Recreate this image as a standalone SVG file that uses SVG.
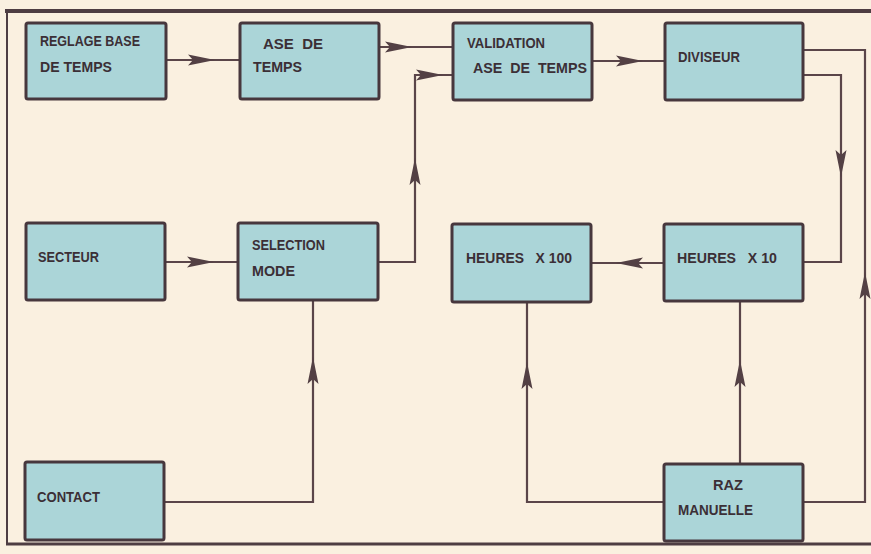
<svg xmlns="http://www.w3.org/2000/svg" xmlns:xlink="http://www.w3.org/1999/xlink" width="871" height="554" viewBox="0 0 871 554">
<style>
.bg{fill:#faf0e0}
.box{fill:#abd5d8;stroke:#47373d;stroke-width:3}
.t{font-family:"Liberation Sans",Arial,sans-serif;font-weight:bold;font-size:15px;fill:#3b2f36}
.ln{fill:none;stroke:#5a4549;stroke-width:2.2}
.ah{fill:#534044}
.frame{stroke:#4e3d42;fill:none}
</style>
<defs>
<path id="ah" class="ah" d="M0,0 L-27,-5.5 L-22,0 L-27,5.5 Z"/>
</defs>
<rect class="bg" x="0" y="0" width="871" height="554"/>
<g id="frame">
<line class="frame" x1="5" y1="11" x2="871" y2="11" stroke-width="4"/>
<line class="frame" x1="7" y1="11" x2="7" y2="544" stroke-width="2"/>
<line class="frame" x1="6" y1="544" x2="871" y2="544" stroke-width="3"/>
</g>
<g id="connectors">
<path class="ln" d="M166,60 H240"/>
<path class="ln" d="M379,47 H453"/>
<path class="ln" d="M378,262 H415 V75 H453"/>
<path class="ln" d="M592,61 H665"/>
<path class="ln" d="M803,75 H841 V262 H803"/>
<path class="ln" d="M803,50 H865 V502 H803"/>
<path class="ln" d="M664,263 H591"/>
<path class="ln" d="M165,262 H238"/>
<path class="ln" d="M164,502 H313 V300"/>
<path class="ln" d="M664,502 H527 V302"/>
<path class="ln" d="M740,464 V301"/>
<use xlink:href="#ah" transform="translate(215,60)"/>
<use xlink:href="#ah" transform="translate(412,47)"/>
<use xlink:href="#ah" transform="translate(443,75)"/>
<use xlink:href="#ah" transform="translate(415,158) rotate(-90)"/>
<use xlink:href="#ah" transform="translate(643,61)"/>
<use xlink:href="#ah" transform="translate(841,177) rotate(90)"/>
<use xlink:href="#ah" transform="translate(616,263) rotate(180)"/>
<use xlink:href="#ah" transform="translate(865,272) rotate(-90)"/>
<use xlink:href="#ah" transform="translate(527,362) rotate(-90)"/>
<use xlink:href="#ah" transform="translate(740,360) rotate(-90)"/>
<use xlink:href="#ah" transform="translate(313,357) rotate(-90)"/>
<use xlink:href="#ah" transform="translate(214,262)"/>
</g>
<g id="reglage">
<rect class="box" x="26" y="23" width="140" height="76" rx="2"/>
<text class="t" x="40" y="46" textLength="100" lengthAdjust="spacingAndGlyphs">REGLAGE BASE</text>
<text class="t" x="40" y="72" textLength="72" lengthAdjust="spacingAndGlyphs">DE TEMPS</text>
</g>
<g id="ase">
<rect class="box" x="240" y="23" width="139" height="76" rx="2"/>
<text class="t" x="263" y="49" xml:space="preserve" textLength="60" lengthAdjust="spacingAndGlyphs">ASE  DE</text>
<text class="t" x="253" y="72" textLength="49" lengthAdjust="spacingAndGlyphs">TEMPS</text>
</g>
<g id="validation">
<rect class="box" x="453" y="23" width="139" height="77" rx="2"/>
<text class="t" x="467" y="48" textLength="78" lengthAdjust="spacingAndGlyphs">VALIDATION</text>
<text class="t" x="473" y="73" xml:space="preserve" textLength="114" lengthAdjust="spacingAndGlyphs">ASE  DE  TEMPS</text>
</g>
<g id="diviseur">
<rect class="box" x="665" y="23" width="138" height="77" rx="2"/>
<text class="t" x="678" y="62" textLength="62" lengthAdjust="spacingAndGlyphs">DIVISEUR</text>
</g>
<g id="secteur">
<rect class="box" x="26" y="223" width="139" height="77" rx="2"/>
<text class="t" x="38" y="262" textLength="61" lengthAdjust="spacingAndGlyphs">SECTEUR</text>
</g>
<g id="selection">
<rect class="box" x="238" y="223" width="140" height="77" rx="2"/>
<text class="t" x="252" y="250" textLength="73" lengthAdjust="spacingAndGlyphs">SELECTION</text>
<text class="t" x="252" y="276" textLength="43" lengthAdjust="spacingAndGlyphs">MODE</text>
</g>
<g id="heures100">
<rect class="box" x="452" y="224" width="139" height="78" rx="2"/>
<text class="t" x="466" y="263" xml:space="preserve" textLength="106" lengthAdjust="spacingAndGlyphs">HEURES   X 100</text>
</g>
<g id="heures10">
<rect class="box" x="664" y="224" width="139" height="77" rx="2"/>
<text class="t" x="677" y="263" xml:space="preserve" textLength="100" lengthAdjust="spacingAndGlyphs">HEURES   X 10</text>
</g>
<g id="contact">
<rect class="box" x="25" y="462" width="139" height="78" rx="2"/>
<text class="t" x="37" y="502" textLength="63" lengthAdjust="spacingAndGlyphs">CONTACT</text>
</g>
<g id="raz">
<rect class="box" x="664" y="464" width="139" height="77" rx="2"/>
<text class="t" x="713" y="490" textLength="30" lengthAdjust="spacingAndGlyphs">RAZ</text>
<text class="t" x="678" y="515" textLength="75" lengthAdjust="spacingAndGlyphs">MANUELLE</text>
</g>
</svg>
